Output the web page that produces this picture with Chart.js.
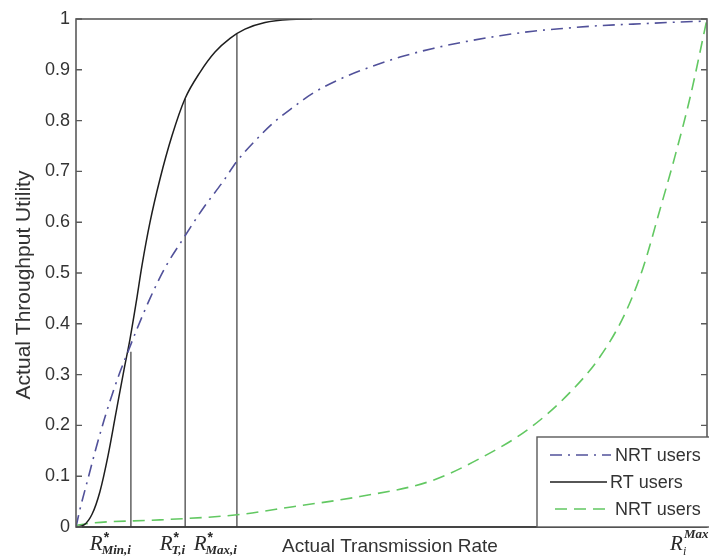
<!DOCTYPE html>
<html>
<head>
<meta charset="utf-8">
<title>Actual Throughput Utility</title>
<script src="https://cdn.jsdelivr.net/npm/chart.js@4.4.1/dist/chart.umd.min.js"></script>
<style>
  html, body { margin: 0; padding: 0; background: #ffffff; }
  #wrap { width: 709px; height: 558px; position: relative; }
</style>
</head>
<body>
<div id="wrap"><canvas id="c" width="709" height="558"></canvas></div>
<script>
// Utility curves versus actual transmission rate (rate axis normalised 0..100)
const rtRate      = [0, 1.27, 2.54, 3.80, 5.07, 6.34, 7.61, 8.56, 9.51, 10.46, 11.73, 13.31, 15.21, 17.27, 19.65, 22.03, 24.41, 26.78, 29.95, 33.91, 37.4];
const rtUtility   = [0, 0.004, 0.025, 0.07, 0.14, 0.225, 0.31, 0.37, 0.44, 0.515, 0.60, 0.685, 0.77, 0.843, 0.895, 0.935, 0.962, 0.980, 0.993, 0.999, 1.0];

const nrtRate     = [0, 0.63, 1.90, 3.17, 4.44, 5.71, 6.97, 8.24, 9.67, 11.73, 14.10, 16.96, 20.13, 23.30, 25.52, 28.37, 31.22, 34.39, 37.56, 41.20, 45.0, 51.35, 56.58, 61.97, 67.20, 72.42, 77.81, 83.04, 88.27, 93.66, 100];
const nrtUtility  = [0, 0.035, 0.095, 0.155, 0.21, 0.26, 0.305, 0.345, 0.39, 0.45, 0.51, 0.567, 0.627, 0.68, 0.72, 0.76, 0.795, 0.826, 0.854, 0.878, 0.898, 0.925, 0.942, 0.956, 0.967, 0.976, 0.982, 0.987, 0.990, 0.993, 0.996];

const nrt2Rate    = [0, 2.69, 13.31, 25.52, 34.39, 45.0, 56.1, 64.03, 71.95, 78.29, 83.04, 87.0, 89.86, 92.55, 94.93, 97.31, 100];
const nrt2Utility = [0.003, 0.008, 0.014, 0.024, 0.04, 0.06, 0.09, 0.135, 0.195, 0.265, 0.335, 0.42, 0.51, 0.625, 0.73, 0.845, 1.0];

// Reference rates marked on the axis: R*Min,i, R*T,i, R*Max,i
const markerRates   = [8.7, 17.3, 25.5];
const markerUtility = [0.345, 0.843, 0.971];
const markerSubs    = ['Min,i', 'T,i', 'Max,i'];

const yTicks = [0, 0.1, 0.2, 0.3, 0.4, 0.5, 0.6, 0.7, 0.8, 0.9, 1];
const legendLabels = ['NRT users', 'RT users', 'NRT users'];

const xTitle = 'Actual Transmission Rate';
const yTitle = 'Actual Throughput Utility';

const COLORS = { nrt: '#51519a', rt: '#1e1e1e', nrt2: '#62c862', marker: '#555555', frame: '#5a5a5a', text: '#333333' };
const DASH = { nrt: [12, 6, 2, 6], rt: [], nrt2: [12, 7] };

const pts = (xs, ys) => xs.map((x, i) => ({ x: x, y: ys[i] }));

const curveDatasets = [
  { label: legendLabels[0], data: pts(nrtRate, nrtUtility), borderColor: COLORS.nrt, borderDash: DASH.nrt, borderWidth: 1.6 },
  { label: legendLabels[1], data: pts(rtRate, rtUtility), borderColor: COLORS.rt, borderDash: DASH.rt, borderWidth: 1.5 },
  { label: legendLabels[2], data: pts(nrt2Rate, nrt2Utility), borderColor: COLORS.nrt2, borderDash: DASH.nrt2, borderWidth: 1.6 }
].map(d => Object.assign(d, { pointRadius: 0, fill: false, cubicInterpolationMode: 'monotone' }));

const markerDatasets = markerRates.map((r, i) => ({
  label: 'marker' + i,
  data: [{ x: r, y: 0 }, { x: r, y: markerUtility[i] }],
  borderColor: COLORS.marker, borderWidth: 1.4, pointRadius: 0, fill: false
}));

// Frame, inward ticks, axis titles, math labels and legend box
const decorations = {
  id: 'decorations',
  afterDatasetsDraw(chart) {
    const ctx = chart.ctx;
    const a = chart.chartArea;
    const xs = chart.scales.x, ys = chart.scales.y;
    ctx.save();

    // plot frame
    ctx.strokeStyle = COLORS.frame;
    ctx.lineWidth = 1.6;
    ctx.setLineDash([]);
    ctx.strokeRect(a.left, a.top, a.right - a.left, a.bottom - a.top);
    ctx.strokeStyle = '#333';
    ctx.beginPath(); ctx.moveTo(a.left, a.bottom); ctx.lineTo(a.right, a.bottom); ctx.stroke();

    // inward tick marks on left and right
    ctx.strokeStyle = COLORS.frame;
    ctx.lineWidth = 1.4;
    yTicks.forEach(v => {
      const py = ys.getPixelForValue(v);
      ctx.beginPath();
      ctx.moveTo(a.left, py); ctx.lineTo(a.left + 6, py);
      ctx.moveTo(a.right, py); ctx.lineTo(a.right - 6, py);
      ctx.stroke();
    });

    // legend
    const lx = 537, ly = 437, lw = a.right - lx + 4, lh = a.bottom - ly;
    ctx.fillStyle = '#ffffff';
    ctx.fillRect(lx, ly, lw, lh);
    ctx.strokeStyle = COLORS.frame;
    ctx.lineWidth = 1.4;
    ctx.strokeRect(lx, ly, lw, lh);
    const rows = [455, 482, 509];
    const samples = [
      { c: COLORS.nrt, d: DASH.nrt, x0: 550, x1: 611 },
      { c: COLORS.rt, d: DASH.rt, x0: 550, x1: 607 },
      { c: COLORS.nrt2, d: DASH.nrt2, x0: 555, x1: 611 }
    ];
    samples.forEach((s, i) => {
      ctx.strokeStyle = s.c; ctx.lineWidth = 1.6; ctx.setLineDash(s.d);
      ctx.beginPath(); ctx.moveTo(s.x0, rows[i]); ctx.lineTo(s.x1, rows[i]); ctx.stroke();
    });
    ctx.setLineDash([]);
    ctx.fillStyle = COLORS.text;
    ctx.font = '18px "Liberation Sans", Arial, sans-serif';
    ctx.textAlign = 'left'; ctx.textBaseline = 'middle';
    legendLabels.forEach((t, i) => ctx.fillText(t, i === 1 ? 610 : 615, rows[i] + 1));

    // axis titles
    ctx.font = '19px "Liberation Sans", Arial, sans-serif';
    ctx.textAlign = 'center'; ctx.textBaseline = 'middle';
    ctx.fillText(xTitle, 390, 547);
    ctx.save();
    ctx.translate(24, 285);
    ctx.rotate(-Math.PI / 2);
    ctx.font = '21px "Liberation Sans", Arial, sans-serif';
    ctx.fillText(yTitle, 0, 0);
    ctx.restore();

    // R* labels under the marker lines
    const drawR = (xRight, sub) => {
      ctx.textBaseline = 'alphabetic'; ctx.textAlign = 'left';
      ctx.font = 'italic 21px "Liberation Serif", "Times New Roman", serif';
      const rw = ctx.measureText('R').width;
      ctx.font = 'italic bold 13px "Liberation Serif", "Times New Roman", serif';
      const sw = ctx.measureText(sub).width;
      const x0 = xRight - rw - sw + 1;
      ctx.fillStyle = '#2a2a2a';
      ctx.font = 'italic 21px "Liberation Serif", "Times New Roman", serif';
      ctx.fillText('R', x0, 550);
      ctx.font = 'italic bold 13px "Liberation Serif", "Times New Roman", serif';
      ctx.fillText(sub, x0 + rw - 1, 554);
      ctx.font = 'bold 14px "Liberation Sans", Arial, sans-serif';
      ctx.fillText('*', x0 + rw + 1, 542);
    };
    markerRates.forEach((r, i) => drawR(xs.getPixelForValue(r), markerSubs[i]));

    // R_i^Max at the right end of the axis
    ctx.fillStyle = '#2a2a2a';
    ctx.font = 'italic 21px "Liberation Serif", "Times New Roman", serif';
    ctx.textAlign = 'left'; ctx.textBaseline = 'alphabetic';
    ctx.fillText('R', 670, 550);
    ctx.font = 'italic 12px "Liberation Serif", "Times New Roman", serif';
    ctx.fillText('i', 683, 555);
    ctx.font = 'italic bold 13px "Liberation Serif", "Times New Roman", serif';
    ctx.fillText('Max', 684, 538);

    ctx.restore();
  }
};

new Chart(document.getElementById('c'), {
  type: 'line',
  data: { datasets: curveDatasets.concat(markerDatasets) },
  options: {
    responsive: false,
    animation: false,
    devicePixelRatio: 1,
    layout: { padding: { top: 19, right: 2, left: 0, bottom: 0 } },
    plugins: { legend: { display: false }, tooltip: { enabled: false } },
    elements: { line: { tension: 0 } },
    scales: {
      x: {
        type: 'linear', min: 0, max: 100,
        ticks: { display: false },
        grid: { display: false, drawTicks: false },
        border: { display: false },
        afterFit: s => { s.height = 31; }
      },
      y: {
        type: 'linear', min: 0, max: 1,
        afterBuildTicks: s => { s.ticks = yTicks.map(v => ({ value: v })); },
        ticks: {
          padding: 6,
          color: COLORS.text,
          font: { family: '"Liberation Sans", Arial, sans-serif', size: 18 },
          callback: v => (v === 0 || v === 1) ? String(v) : v.toFixed(1)
        },
        grid: { display: false, drawTicks: false },
        border: { display: false },
        afterFit: s => { s.width = 76; }
      }
    }
  },
  plugins: [decorations]
});
</script>
</body>
</html>
